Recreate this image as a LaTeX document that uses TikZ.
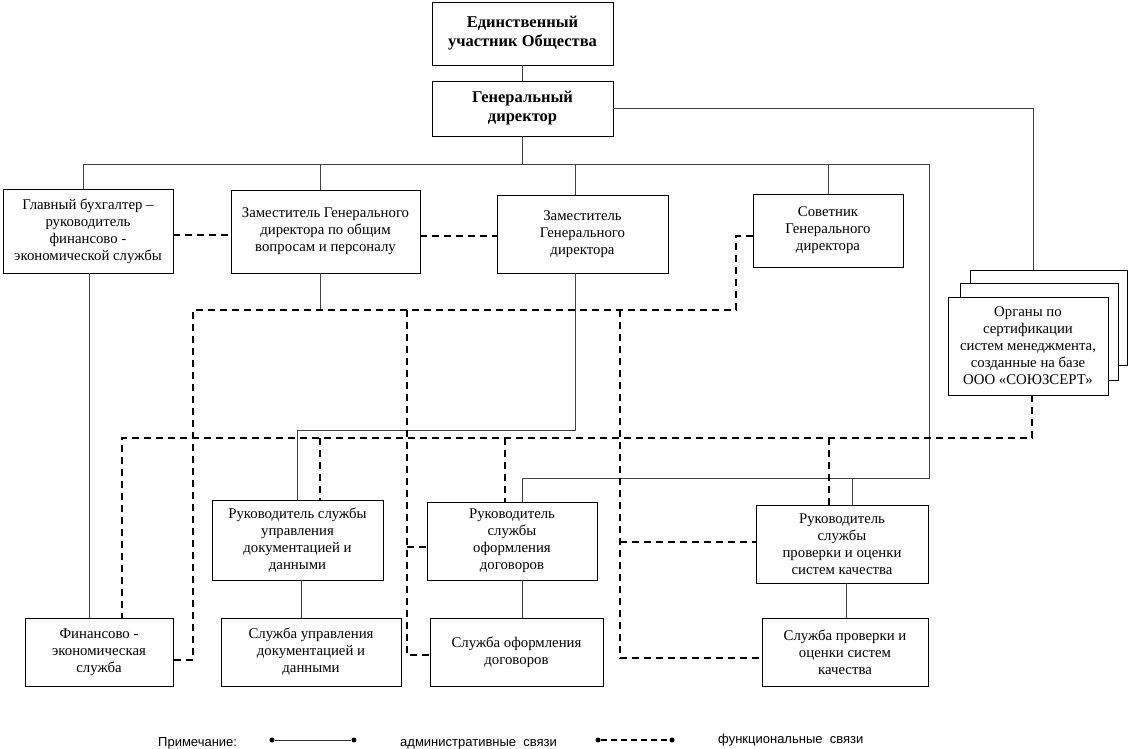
\documentclass[tikz,border=0pt]{standalone}
\usepackage{fontspec}
\setmainfont{Liberation Serif}
\newfontfamily\legendfont{Liberation Sans}
\begin{document}
\begin{tikzpicture}[x=1pt,y=-1pt,
 orgbox/.style={draw=black, line width=0.9pt, fill=white, align=center, inner sep=1pt, font=\fontsize{14.8}{17}\selectfont},
 topbox/.style={orgbox, font=\fontsize{16.5}{19}\selectfont\bfseries},
 admline/.style={draw=black!75, line width=0.8pt},
 funline/.style={draw=black, line width=2pt, dash pattern=on 7pt off 5pt},
 legendtxt/.style={font=\legendfont\fontsize{13}{15}\selectfont, inner sep=0pt},
 dotnode/.style={circle, fill=black, inner sep=0pt, minimum size=5pt},
]
\fill[white] (0,0) rectangle (1130,748);
\useasboundingbox (0,0) rectangle (1130,748);

% boxes
\node[topbox, minimum width=181pt, minimum height=63pt] (A) at (522.5,33.5) {Единственный\\участник Общества};
\node[topbox, minimum width=181pt, minimum height=55pt] (B) at (522.5,108.5) {Генеральный\\директор};
\node[orgbox, minimum width=170pt, minimum height=84pt] (C) at (88,231) {Главный бухгалтер –\\руководитель\\финансово -\\экономической службы};
\node[orgbox, minimum width=189pt, minimum height=83pt] (D) at (325.5,231.5) {Заместитель Генерального\\директора по общим\\вопросам и персоналу};
\node[orgbox, minimum width=171pt, minimum height=78pt] (E) at (582.5,234) {Заместитель\\Генерального\\директора};
\node[orgbox, minimum width=150pt, minimum height=73pt] (F) at (828,230.5) {Советник\\Генерального\\директора};
\node[orgbox, minimum width=157pt, minimum height=95pt] (G3) at (1048.5,317.5) {};
\node[orgbox, minimum width=158pt, minimum height=97pt] (G2) at (1039,331.5) {};
\node[orgbox, minimum width=160pt, minimum height=98pt] (G1) at (1028,346) {Органы по\\сертификации\\систем менеджмента,\\созданные на базе\\ООО «СОЮЗСЕРТ»};
\node[orgbox, minimum width=171pt, minimum height=80pt] (H) at (297.5,540) {Руководитель службы\\управления\\документацией и\\данными};
\node[orgbox, minimum width=170pt, minimum height=78pt] (I) at (512,541) {Руководитель\\службы\\оформления\\договоров};
\node[orgbox, minimum width=172pt, minimum height=78pt] (J) at (842,544) {Руководитель\\службы\\проверки и оценки\\систем качества};
\node[orgbox, minimum width=148pt, minimum height=68pt] (K) at (99,652) {Финансово -\\экономическая\\служба};
\node[orgbox, minimum width=180pt, minimum height=68pt] (L) at (311,652) {Служба управления\\документацией и\\данными};
\node[orgbox, minimum width=173pt, minimum height=68pt] (M) at (516.5,652) {Служба оформления\\договоров};
\node[orgbox, minimum width=166pt, minimum height=68pt] (N) at (845,652) {Служба проверки и\\оценки систем\\качества};

% administrative lines
\coordinate (bus) at (0,164);
\coordinate (busL) at (83,164);
\coordinate (busR) at (929,164);
\coordinate (xD) at (320,164);
\coordinate (xE) at (575,164);
\coordinate (r1) at (929,478);
\coordinate (xI) at (522,0);
\coordinate (xJ) at (852,0);
\coordinate (xG) at (1033,0);
\coordinate (xE2) at (575,430);
\coordinate (f1) at (320,310);
\coordinate (xC) at (89,0);
\coordinate (xH) at (301,0);
\coordinate (xN) at (846,0);
\draw[admline] (A) -- (B);
\draw[admline] (B.south) -- (B.south |- bus);
\draw[admline] (busL) -- (busR);
\draw[admline] (busL) -- (busL |- C.north);
\draw[admline] (xD) -- (xD |- D.north);
\draw[admline] (xE) -- (xE |- E.north);
\draw[admline] (F.north |- bus) -- (F.north);
\draw[admline] (busR) -- (r1) -- (r1 -| xI) -- (xI |- I.north);
\draw[admline] (xJ |- r1) -- (xJ |- J.north);
\draw[admline] (B.east) -- (B.east -| xG) -- (xG |- G3.north);
\draw[admline] (xE |- E.south) -- (xE2) -- (xE2 -| H.north) -- (H.north);
\draw[admline] (xD |- D.south) -- (f1);
\draw[admline] (xC |- C.south) -- (xC |- K.north);
\draw[admline] (xH |- H.south) -- (xH |- L.north);
\draw[admline] (xI |- I.south) -- (xI |- M.north);
\draw[admline] (xN |- J.south) -- (xN |- N.north);

% functional lines
\coordinate (y235) at (0,235);
\coordinate (y236) at (0,236);
\coordinate (p1) at (736,236);
\coordinate (p2) at (736,310);
\coordinate (p3) at (193,310);
\coordinate (p4) at (193,660);
\coordinate (q1) at (407,310);
\coordinate (q2) at (407,655);
\coordinate (q3) at (407,547);
\coordinate (s1) at (620,310);
\coordinate (s2) at (620,658);
\coordinate (s3) at (620,542);
\coordinate (t1) at (1032,438);
\coordinate (t2) at (122,438);
\coordinate (u1) at (320,438);
\coordinate (u2) at (505,438);
\coordinate (u3) at (829,438);
\draw[funline] (C.east |- y235) -- (D.west |- y235);
\draw[funline] (D.east |- y236) -- (E.west |- y236);
\draw[funline] (F.west |- p1) -- (p1) -- (p2) -- (p3) -- (p4) -- (K.east |- p4);
\draw[funline] (q1) -- (q2) -- (M.west |- q2);
\draw[funline] (q3) -- (I.west |- q3);
\draw[funline] (s1) -- (s2) -- (N.west |- s2);
\draw[funline] (s3) -- (J.west |- s3);
\draw[funline] (t1 |- G1.south) -- (t1) -- (t2) -- (t2 |- K.north);
\draw[funline] (u1) -- (u1 |- H.north);
\draw[funline] (u2) -- (u2 |- I.north);
\draw[funline] (u3) -- (u3 |- J.north);

% legend
\node[legendtxt, anchor=base west] (note) at (158,746) {Примечание:};
\node[dotnode] (la) at (272,740) {};
\node[dotnode] (lb) at (354,740) {};
\draw[black!80, line width=0.9pt] (la) -- (lb);
\node[legendtxt, anchor=base west] (admtxt) at (400,746) {административные\ \ связи};
\node[dotnode] (lc) at (598,740) {};
\node[dotnode] (ld) at (672,740) {};
\draw[black, line width=1.6pt, dash pattern=on 6pt off 4pt] (lc) -- (ld);
\node[legendtxt, anchor=base west] (funtxt) at (718,743) {функциональные\ \ связи};
\end{tikzpicture}
\end{document}
